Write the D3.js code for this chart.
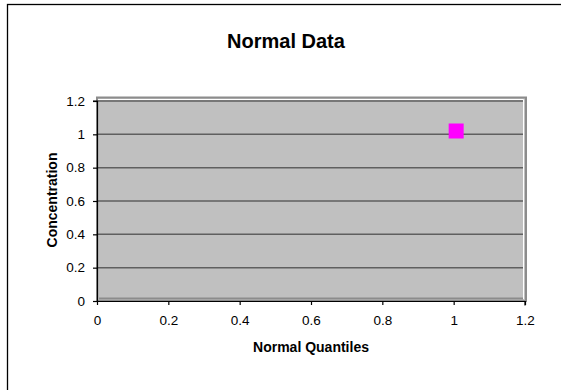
<!DOCTYPE html>
<html>
<head>
<meta charset="utf-8">
<script src="https://cdn.jsdelivr.net/npm/d3@7"></script>
<style>
  body { margin: 0; background: #fff; }
  text { font-family: "Liberation Sans", Arial, sans-serif; fill: #000; }
</style>
</head>
<body>
<div id="chart"></div>
<script>
var quantiles = [1.007];
var concentration = [1.02];
var xTicks = [0, 0.2, 0.4, 0.6, 0.8, 1, 1.2];
var yTicks = [0, 0.2, 0.4, 0.6, 0.8, 1, 1.2];

var width = 561, height = 390;

var svg = d3.select("#chart").append("svg")
  .attr("width", width)
  .attr("height", height);

// chart border (right and bottom edges fall outside the picture)
svg.append("rect")
  .attr("x", 7.5).attr("y", 4.5)
  .attr("width", 570).attr("height", 400)
  .attr("fill", "#fff")
  .attr("stroke", "#000")
  .attr("stroke-width", 1.3);

var x = d3.scaleLinear().domain([0, 1.2]).range([97, 525]);
var y = d3.scaleLinear().domain([0, 1.2]).range([301, 101]);

// plot area
svg.append("rect")
  .attr("x", 97).attr("y", 97.5)
  .attr("width", 429).attr("height", 203.5)
  .attr("fill", "#c0c0c0")
  .attr("stroke", "#8c8c8c")
  .attr("stroke-width", 2);
svg.append("path")
  .attr("d", "M98,99.5H523.5V299")
  .attr("fill", "none")
  .attr("stroke", "#fff")
  .attr("stroke-width", 1);
svg.append("path")
  .attr("d", "M99,298.5H523")
  .attr("fill", "none")
  .attr("stroke", "#8c8c8c")
  .attr("stroke-width", 2);

// gridlines
svg.append("g")
  .selectAll("line")
  .data(yTicks.filter(function (d) { return d > 0; }))
  .enter().append("line")
  .attr("x1", 98).attr("x2", 523)
  .attr("y1", function (d) { return y(d); })
  .attr("y2", function (d) { return y(d); })
  .attr("stroke", "#5f5f5f")
  .attr("stroke-width", 1.5);

var xAxis = svg.append("g")
  .attr("transform", "translate(0," + y(0) + ")")
  .call(d3.axisBottom(x).tickValues(xTicks).tickSize(4).tickPadding(10)
    .tickFormat(d3.format("")));
var yAxis = svg.append("g")
  .attr("transform", "translate(" + x(0) + ",0)")
  .call(d3.axisLeft(y).tickValues(yTicks).tickSize(4).tickPadding(8)
    .tickFormat(d3.format("")));

[xAxis, yAxis].forEach(function (a) {
  a.select(".domain").attr("stroke", "#000").attr("stroke-width", 1.2);
  a.selectAll(".tick line").attr("stroke", "#000").attr("stroke-width", 1.2);
  a.selectAll(".tick text")
    .style("font-family", "'Liberation Sans', Arial, sans-serif")
    .style("font-size", "13.5px")
    .attr("fill", "#000");
});
xAxis.select(".domain").attr("d", "M" + x(0) + ",0.5H" + x(1.2) + "V4.5");
yAxis.select(".domain").attr("d", "M-4," + y(1.2) + "H0.5V" + y(0));

// points
svg.append("g")
  .selectAll("rect")
  .data(quantiles.map(function (q, i) { return [q, concentration[i]]; }))
  .enter().append("rect")
  .attr("x", function (d) { return x(d[0]) - 7.5; })
  .attr("y", function (d) { return y(d[1]) - 7.5; })
  .attr("width", 15).attr("height", 15)
  .attr("fill", "#ff00ff");

svg.append("text")
  .attr("x", 286).attr("y", 47.5)
  .attr("text-anchor", "middle")
  .style("font-size", "20px")
  .style("font-weight", "bold")
  .text("Normal Data");

svg.append("text")
  .attr("x", 311).attr("y", 352)
  .attr("text-anchor", "middle")
  .style("font-size", "14px")
  .style("font-weight", "bold")
  .text("Normal Quantiles");

svg.append("text")
  .attr("transform", "translate(57," + 200 + ") rotate(-90)")
  .attr("text-anchor", "middle")
  .style("font-size", "14px")
  .style("font-weight", "bold")
  .text("Concentration");
</script>
</body>
</html>
